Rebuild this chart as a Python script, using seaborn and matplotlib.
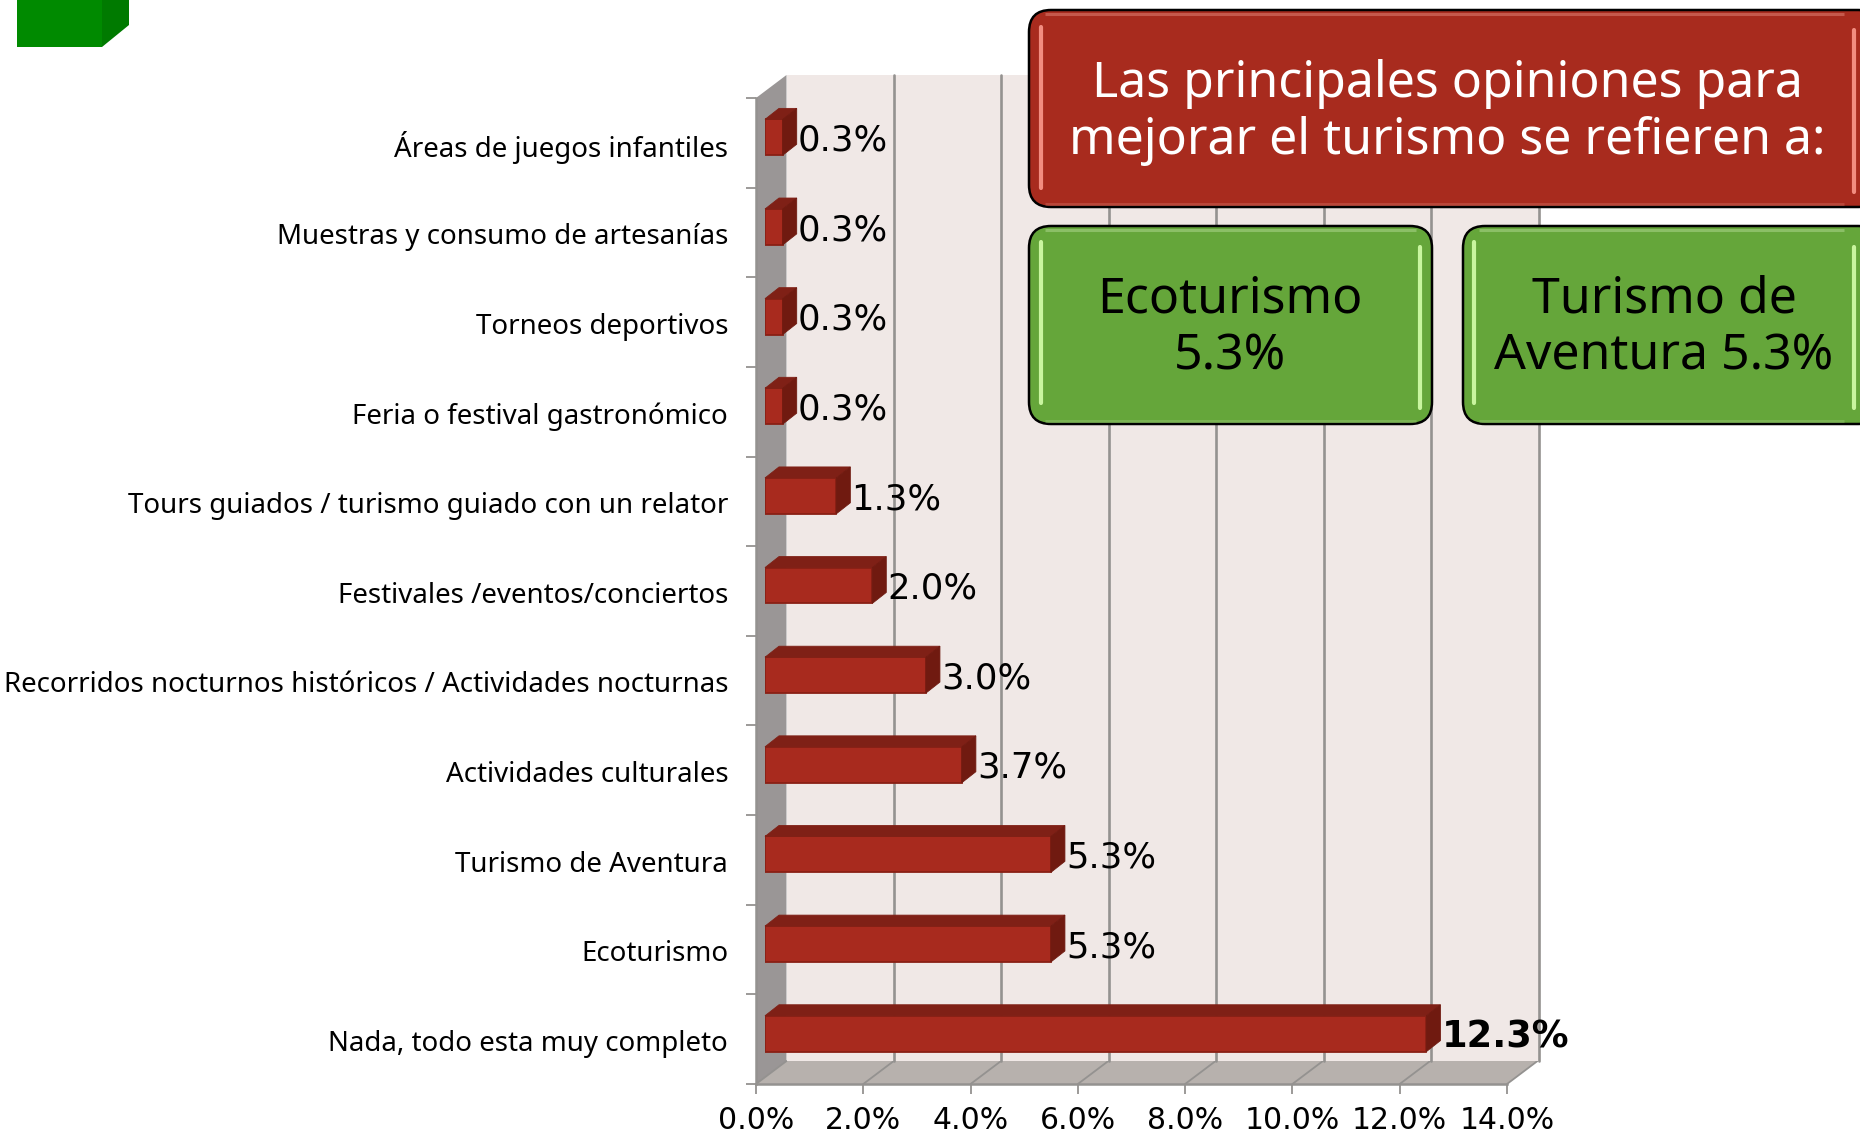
import matplotlib
matplotlib.use("Agg")
import matplotlib.pyplot as plt
from matplotlib.patches import FancyBboxPatch, Polygon, Rectangle
from matplotlib.transforms import ScaledTranslation
import seaborn as sns
import pandas as pd

categories = ["Áreas de juegos infantiles", "Muestras y consumo de artesanías", "Torneos deportivos",
              "Feria o festival gastronómico", "Tours guiados / turismo guiado con un relator",
              "Festivales /eventos/conciertos", "Recorridos nocturnos históricos / Actividades nocturnas",
              "Actividades culturales", "Turismo de Aventura", "Ecoturismo", "Nada, todo esta muy completo"]
values = [0.33, 0.33, 0.33, 0.33, 1.33, 2.0, 3.0, 3.67, 5.33, 5.33, 12.33]
x_ticks = [0, 2, 4, 6, 8, 10, 12, 14]
title_text = "Las principales opiniones para\nmejorar el turismo se refieren a:"
box_left_text = "Ecoturismo\n5.3%"
box_right_text = "Turismo de\nAventura 5.3%"

W, H = 1860, 1142
sns.set_theme(style="white")
plt.rcParams["font.family"] = ["DejaVu Sans"]
fig = plt.figure(figsize=(W / 100, H / 100), dpi=100, facecolor="white")

def px_axes(x0, y0, x1, y1, z):
    a = fig.add_axes([x0 / W, 1 - y1 / H, (x1 - x0) / W, (y1 - y0) / H], zorder=z)
    return a

GRID = "#949290"
FX0, FX1, FY0, FY1 = 756, 1507, 98, 1084
DX, DY = 30.5, 23
UNIT = (FX1 - FX0) / 14

under = px_axes(0, 0, W, H, 0)
under.set_xlim(0, W); under.set_ylim(H, 0); under.axis("off")
under.add_patch(Polygon([(FX0, FY0), (FX0 + DX, FY0 - DY), (FX0 + DX, FY1 - DY), (FX0, FY1)], fc="#9a9696", ec="none"))
under.add_patch(Polygon([(FX0, FY1), (FX1, FY1), (FX1 + DX, FY1 - DY), (FX0 + DX, FY1 - DY)], fc="#b7b1ad", ec="none"))
for t in x_ticks:
    xx = FX0 + t * UNIT
    under.plot([xx, xx + DX], [FY1, FY1 - DY], color=GRID, lw=1.3)

back = px_axes(FX0 + DX, FY0 - DY, FX1 + DX + 1, FY1 - DY, 1)
back.set_facecolor("#f0e8e6")
back.set_xlim(0, 14); back.set_xticks(x_ticks); back.set_yticks([])
back.tick_params(length=0, labelbottom=False)
back.grid(axis="x", color=GRID, lw=1.9, clip_on=False)
for gl in back.get_xgridlines():
    gl.set_clip_on(False)
back.get_xgridlines()[0].set_visible(False)
for s in back.spines.values():
    s.set_visible(False)

front = px_axes(FX0, FY0, FX1, FY1, 2)
front.patch.set_alpha(0)
front.set_xlim(0, 14); front.set_ylim(10.5, -0.5)
front.set_xticks(x_ticks, [f"{t:.1f}%" for t in x_ticks], fontsize=21.5, color="black")
front.set_yticks(range(len(categories)), categories, fontsize=19.95, color="black", fontfamily="Noto Sans")
front.set_yticks([i - 0.5 for i in range(len(categories) + 1)], minor=True)
front.tick_params(axis="y", which="major", length=0, pad=20)
front.tick_params(axis="y", which="minor", length=7, width=1.3, color=GRID, left=True)
front.tick_params(axis="x", which="major", length=7, width=1.3, color=GRID, bottom=True, pad=9)
shift = ScaledTranslation(0, -1.2 / 100, fig.dpi_scale_trans)
for lab in front.get_yticklabels():
    lab.set_transform(lab.get_transform() + shift)
for n, s in front.spines.items():
    s.set_visible(n in ("left", "bottom"))
    s.set_color(GRID); s.set_linewidth(1.8)

bars = px_axes(FX0 + 9, FY0 - 5.5, FX1 + 9, FY1 - 5.5, 3)
bars.patch.set_alpha(0)
df = pd.DataFrame({"categoria": categories, "valor": values})
sns.barplot(data=df, x="valor", y="categoria", orient="h", color="#a82a1e", saturation=1,
            width=0.4, edgecolor="#8a2015", linewidth=1.3, ax=bars)
bars.set_xlim(0, 14); bars.set_ylim(10.5, -0.5)
bars.axis("off")
dy = 11 / ((FY1 - FY0) / 11)
dxx = 14 / UNIT
for p in list(bars.patches):
    x, y, w, h = p.get_x(), p.get_y(), p.get_width(), p.get_height()
    bars.add_patch(Polygon([(x, y), (x + dxx, y - dy), (x + w + dxx, y - dy), (x + w, y)], fc="#7f2016", ec="#7f2016", lw=0.6, clip_on=False))
    bars.add_patch(Polygon([(x + w, y), (x + w + dxx, y - dy), (x + w + dxx, y + h - dy), (x + w, y + h)], fc="#701a10", ec="#701a10", lw=0.6, clip_on=False))
    is_max = w == max(values)
    bars.annotate(f"{w:.1f}%", (x + w, y + h / 2), xytext=(10.8, -2.3), textcoords="offset points",
                  va="center", ha="left", fontsize=26.5 if is_max else 25.5,
                  fontweight="bold" if is_max else "normal", color="black", annotation_clip=False, zorder=6)

over = px_axes(0, 0, W, H, 5)
over.set_xlim(0, W); over.set_ylim(H, 0); over.axis("off"); over.patch.set_alpha(0)
over.add_patch(Rectangle((17, -2), 85, 49, fc="#008a00", ec="none"))
over.add_patch(Polygon([(102, -2), (129, -2), (129, 25), (102, 47)], fc="#007a00", ec="none"))

def box(x0, y0, x1, y1, fc, hi, band, lines, tc, left_seg, right_seg):
    over.add_patch(FancyBboxPatch((x0 + 22, y0 + 23), x1 - x0 - 44, y1 - y0 - 44,
                                  boxstyle="round,pad=22,rounding_size=22", fc="#8a8a8a", ec="none", alpha=0.45))
    over.add_patch(FancyBboxPatch((x0 + 22, y0 + 22), x1 - x0 - 44, y1 - y0 - 44,
                                  boxstyle="round,pad=22,rounding_size=22", fc=fc, ec="black", lw=1.8))
    over.plot([x0 + 16, min(x1, W) - 16], [y0 + 3.5] * 2, color=band, lw=2.2, alpha=0.6, solid_capstyle="butt")
    over.plot([x0 + 16, min(x1, W) - 16], [y1 - 3.5] * 2, color=band, lw=2.2, alpha=0.35, solid_capstyle="butt")
    over.plot([left_seg[0]] * 2, left_seg[1:], color=hi, lw=3, solid_capstyle="round")
    over.plot([right_seg[0]] * 2, right_seg[1:], color=hi, lw=3, solid_capstyle="round")
    over.text(lines[1], (y0 + y1) / 2 + lines[2], lines[0], color=tc, ha="center",
              va="center", fontsize=lines[3], linespacing=lines[4], fontfamily="Noto Sans")

box(1029, 10, 1880, 207, "#a82b1e", "#f28d80", "#d9796c", (title_text, 1447, 4, 36, 1.19), "white", (1041, 27, 188), (1854, 30, 192))
box(1029, 226, 1432, 424, "#65a63a", "#c9f59f", "#a5d184", (box_left_text, 1230, 3, 36, 1.19), "black", (1041, 242, 403), (1420, 247, 408))
box(1463, 226, 1880, 424, "#65a63a", "#c9f59f", "#a5d184", (box_right_text, 1664, 3, 36, 1.19), "black", (1474, 242, 403), (1854, 247, 408))

fig.savefig("out.png", dpi=100, facecolor="white")
